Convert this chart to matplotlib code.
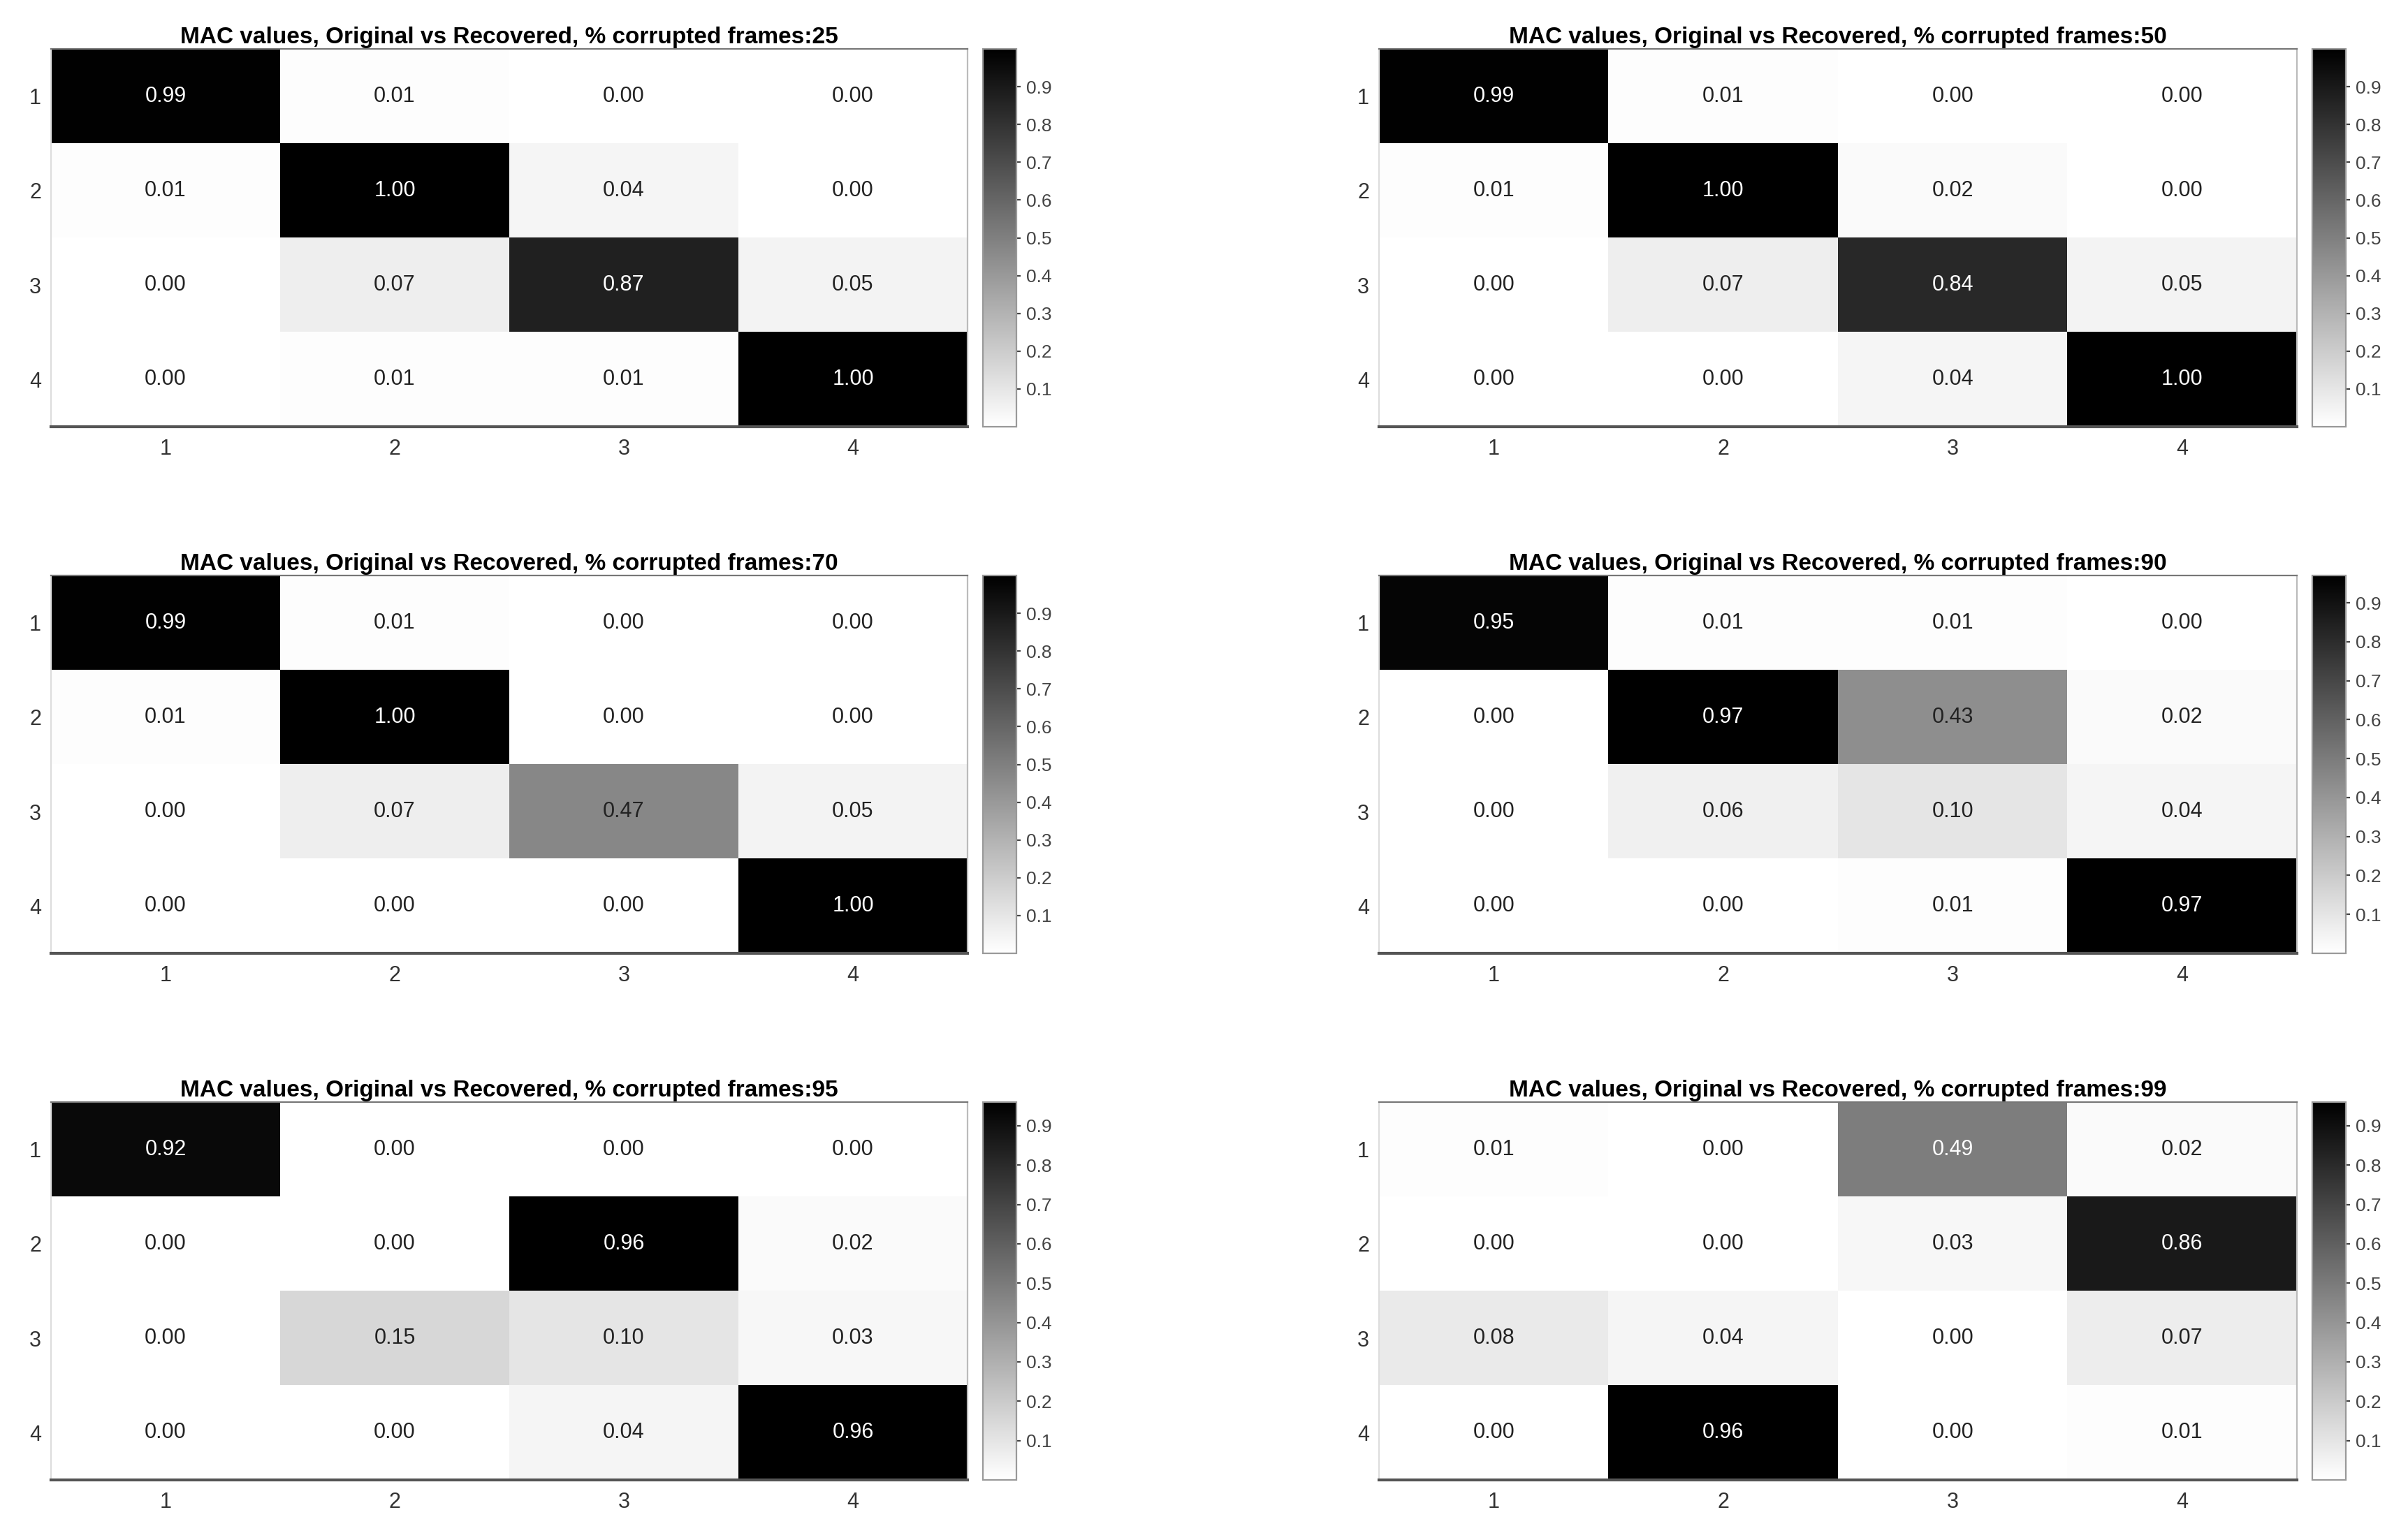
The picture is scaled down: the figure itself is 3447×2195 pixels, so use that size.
import numpy as np
import matplotlib
matplotlib.use("Agg")
import matplotlib.pyplot as plt

plt.rcParams['font.family'] = ['Liberation Sans', 'DejaVu Sans']

# percentage of corrupted frames for each panel
percents = [25, 50, 70, 90, 95, 99]

# MAC matrices (rows: original, columns: recovered)
mac_25 = [[0.99, 0.01, 0.00, 0.00],
          [0.01, 1.00, 0.04, 0.00],
          [0.00, 0.07, 0.87, 0.05],
          [0.00, 0.01, 0.01, 1.00]]
mac_50 = [[0.99, 0.01, 0.00, 0.00],
          [0.01, 1.00, 0.02, 0.00],
          [0.00, 0.07, 0.84, 0.05],
          [0.00, 0.00, 0.04, 1.00]]
mac_70 = [[0.99, 0.01, 0.00, 0.00],
          [0.01, 1.00, 0.00, 0.00],
          [0.00, 0.07, 0.47, 0.05],
          [0.00, 0.00, 0.00, 1.00]]
mac_90 = [[0.95, 0.01, 0.01, 0.00],
          [0.00, 0.97, 0.43, 0.02],
          [0.00, 0.06, 0.10, 0.04],
          [0.00, 0.00, 0.01, 0.97]]
mac_95 = [[0.92, 0.00, 0.00, 0.00],
          [0.00, 0.00, 0.96, 0.02],
          [0.00, 0.15, 0.10, 0.03],
          [0.00, 0.00, 0.04, 0.96]]
mac_99 = [[0.01, 0.00, 0.49, 0.02],
          [0.00, 0.00, 0.03, 0.86],
          [0.08, 0.04, 0.00, 0.07],
          [0.00, 0.96, 0.00, 0.01]]
matrices = [mac_25, mac_50, mac_70, mac_90, mac_95, mac_99]

tick_labels = ['1', '2', '3', '4']
cbar_ticks = [0.1, 0.2, 0.3, 0.4, 0.5, 0.6, 0.7, 0.8, 0.9]

W, H = 3447, 2195
dpi = 200
fig = plt.figure(figsize=(W / dpi, H / dpi), dpi=dpi)

# pixel boxes for the panels
col_x = [(73, 1385, 1407, 1455), (1974, 3288, 3310, 3358)]
row_y = [(70, 611), (824, 1365), (1578, 2119)]

def box(x0, x1, y0, y1):
    return [x0 / W, 1 - y1 / H, (x1 - x0) / W, (y1 - y0) / H]

for k in range(6):
    r = k // 2
    c = k % 2
    x0, x1, cx0, cx1 = col_x[c]
    y0, y1 = row_y[r]
    ax = fig.add_axes(box(x0, x1, y0, y1))
    cax = fig.add_axes(box(cx0, cx1, y0, y1))

    data = np.array(matrices[k])
    vmin, vmax = data.min(), data.max()
    im = ax.imshow(data, cmap='gray_r', vmin=vmin, vmax=vmax, aspect='auto',
                   interpolation='nearest')

    # valores dentro das celulas
    for i in range(4):
        for j in range(4):
            v = data[i, j]
            norm_v = (v - vmin) / (vmax - vmin)
            col = 'white' if norm_v > 0.5 else '#222222'
            ax.text(j, i, f"{v:.2f}", ha='center', va='center',
                    fontsize=11, color=col)

    ax.set_xticks(range(4))
    ax.set_yticks(range(4))
    ax.set_xticklabels(tick_labels)
    ax.set_yticklabels(tick_labels)
    ax.tick_params(axis='x', length=0, pad=6, labelsize=11, labelcolor='#333333')
    ax.tick_params(axis='y', length=0, pad=5, labelsize=11, labelcolor='#333333')
    ax.spines['top'].set_color('#777777')
    ax.spines['bottom'].set_color('#555555')
    ax.spines['bottom'].set_linewidth(1.5)
    ax.spines['left'].set_color('#dddddd')
    ax.spines['right'].set_color('#bbbbbb')
    ax.set_title(f"MAC values, Original vs Recovered, % corrupted frames:{percents[k]}",
                 fontsize=12, fontweight='bold', pad=3)

    cb = fig.colorbar(im, cax=cax)
    cb.set_ticks(cbar_ticks)
    cb.ax.tick_params(length=2, width=0.8, pad=3, labelsize=9.5,
                      labelcolor='#444444', color='#444444')
    cb.outline.set_edgecolor('#999999')
    cb.outline.set_linewidth(0.8)

plt.savefig('out.png', dpi=dpi)
plt.close()
